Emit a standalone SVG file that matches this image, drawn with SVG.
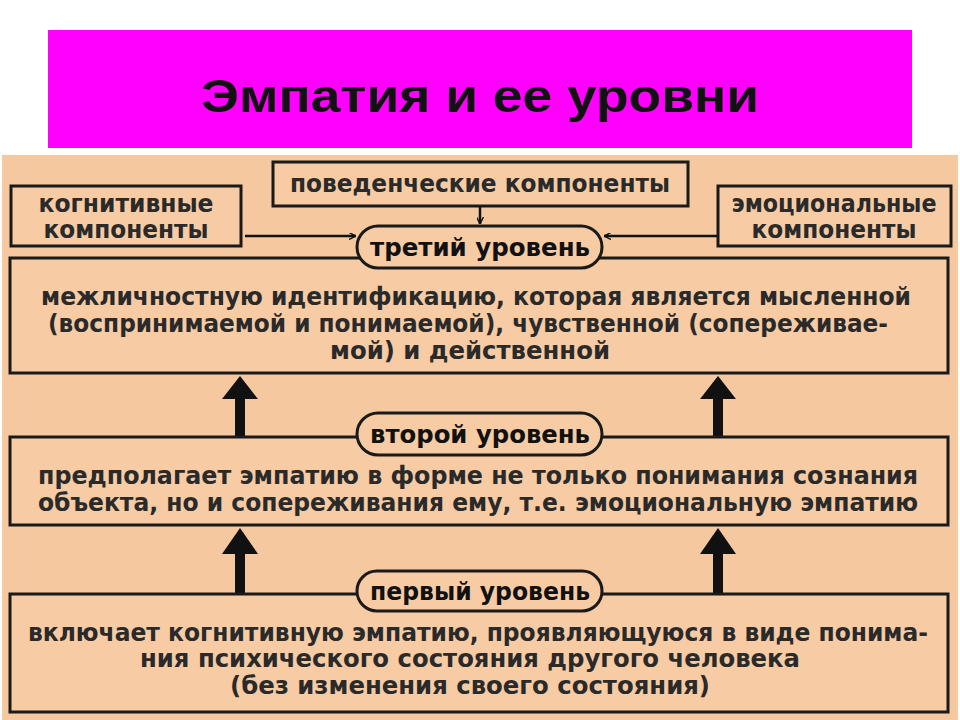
<svg xmlns="http://www.w3.org/2000/svg" width="960" height="720" viewBox="0 0 960 720">
<style>
.box{fill:#F7CBA3;stroke:#1a1a1a;stroke-width:3}
.t{font-family:"DejaVu Sans Condensed","DejaVu Sans","Liberation Sans",sans-serif;font-size:24px;font-weight:bold;fill:#2a2a2a;text-anchor:middle}
.p{font-family:"DejaVu Sans Condensed","DejaVu Sans","Liberation Sans",sans-serif;font-size:24px;font-weight:bold;fill:#111;text-anchor:middle}
.c{stroke:#111;stroke-width:2.5;fill:none}
.big{fill:#111}
</style>
<defs>
<marker id="ah" viewBox="0 0 10 10" refX="10" refY="5" markerWidth="7" markerHeight="7" orient="auto" markerUnits="userSpaceOnUse"><path d="M0,0 L10,5 L0,10" fill="none" stroke="#111" stroke-width="2"/></marker>
</defs>
<rect width="960" height="720" fill="#fff"/>
<rect x="2" y="155" width="956" height="565" fill="#F5C8A0"/>
<g id="title"><rect x="48" y="30" width="864" height="118" fill="#FF00FF"/>
<text x="480" y="112" font-family="Liberation Sans,Arial,sans-serif" font-size="46" font-weight="bold" fill="#111" text-anchor="middle" textLength="558" lengthAdjust="spacingAndGlyphs">Эмпатия и ее уровни</text></g>
<g id="connectors">
<line class="c" x1="245" y1="236" x2="356" y2="236" marker-end="url(#ah)"/>
<line class="c" x1="718" y1="236" x2="604" y2="236" marker-end="url(#ah)"/>
<line class="c" x1="480" y1="206" x2="480" y2="224" marker-end="url(#ah)"/>
<g class="big">
<rect x="235" y="398" width="10" height="38"/><polygon points="222,399 258,399 240,376"/>
<rect x="713" y="398" width="10" height="38"/><polygon points="700,399 736,399 718,376"/>
<rect x="235" y="553" width="10" height="42"/><polygon points="222,554 258,554 240,528"/>
<rect x="713" y="553" width="10" height="42"/><polygon points="700,554 736,554 718,528"/>
</g>
</g>
<g id="cognitive"><rect class="box" x="11" y="186" width="230" height="60"/>
<text class="t" x="126" y="212" textLength="175" lengthAdjust="spacingAndGlyphs">когнитивные</text><text class="t" x="126" y="238" textLength="165" lengthAdjust="spacingAndGlyphs">компоненты</text></g>
<g id="behavioral"><rect class="box" x="273" y="162" width="415" height="44"/>
<text class="t" x="480" y="192" textLength="380" lengthAdjust="spacingAndGlyphs">поведенческие компоненты</text></g>
<g id="emotional"><rect class="box" x="718" y="186" width="233" height="60"/>
<text class="t" x="834" y="212" textLength="205" lengthAdjust="spacingAndGlyphs">эмоциональные</text><text class="t" x="834" y="238" textLength="165" lengthAdjust="spacingAndGlyphs">компоненты</text></g>
<g id="level3box"><rect class="box" x="10" y="258" width="938" height="115"/>
<text class="t" x="476" y="305" textLength="870" lengthAdjust="spacingAndGlyphs">межличностную идентификацию, которая является мысленной</text>
<text class="t" x="468" y="332" textLength="840" lengthAdjust="spacingAndGlyphs">(воспринимаемой и понимаемой), чувственной (сопереживае-</text>
<text class="t" x="470" y="359" textLength="280" lengthAdjust="spacingAndGlyphs">мой) и действенной</text></g>
<g id="level3"><rect class="box" x="357" y="226" width="245" height="42" rx="21"/>
<text class="p" x="480" y="256" textLength="220" lengthAdjust="spacingAndGlyphs">третий уровень</text></g>
<g id="level2box"><rect class="box" x="10" y="437" width="938" height="88"/>
<text class="t" x="478" y="484" textLength="880" lengthAdjust="spacingAndGlyphs">предполагает эмпатию в форме не только понимания сознания</text>
<text class="t" x="478" y="511" textLength="880" lengthAdjust="spacingAndGlyphs">объекта, но и сопереживания ему, т.е. эмоциональную эмпатию</text></g>
<g id="level2"><rect class="box" x="357" y="413" width="245" height="42" rx="21"/>
<text class="p" x="480" y="443" textLength="220" lengthAdjust="spacingAndGlyphs">второй уровень</text></g>
<g id="level1box"><rect class="box" x="10" y="594" width="938" height="118"/>
<text class="t" x="478" y="641" textLength="900" lengthAdjust="spacingAndGlyphs">включает когнитивную эмпатию, проявляющуюся в виде понима-</text>
<text class="t" x="470" y="667" textLength="660" lengthAdjust="spacingAndGlyphs">ния психического состояния другого человека</text>
<text class="t" x="470" y="694" textLength="480" lengthAdjust="spacingAndGlyphs">(без изменения своего состояния)</text></g>
<g id="level1"><rect class="box" x="357" y="571" width="245" height="40" rx="20"/>
<text class="p" x="480" y="600" textLength="220" lengthAdjust="spacingAndGlyphs">первый уровень</text></g>
</svg>
